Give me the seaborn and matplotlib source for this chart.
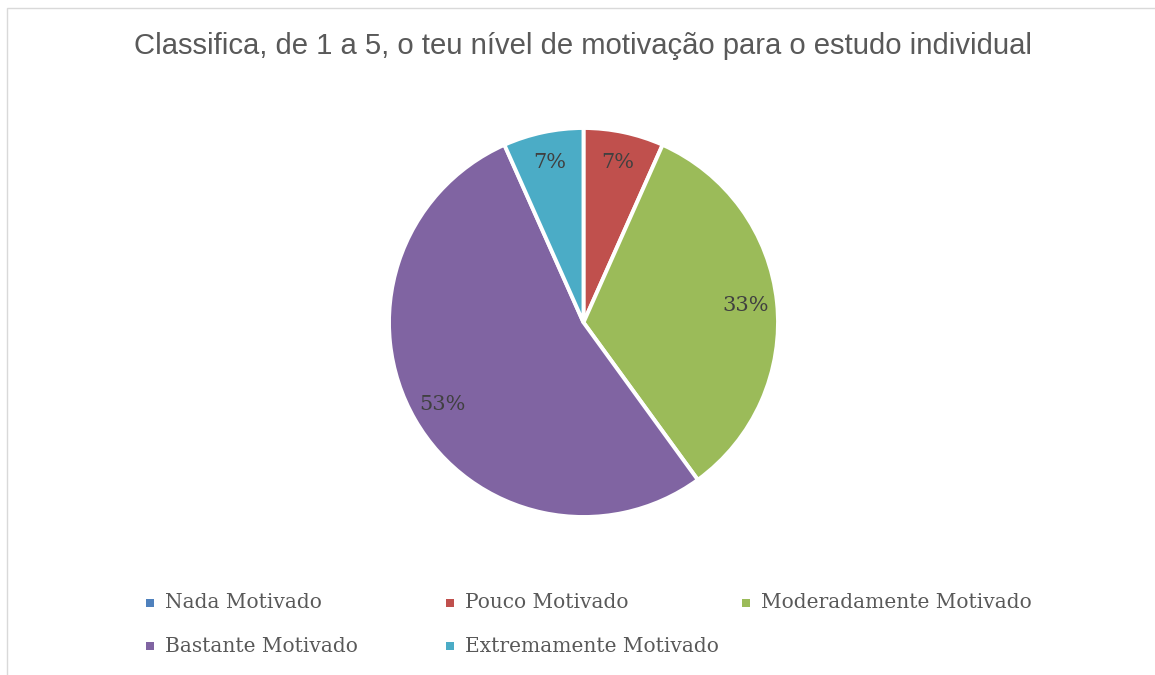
import matplotlib
matplotlib.use("Agg")
import matplotlib.pyplot as plt
from matplotlib.patches import Rectangle
import seaborn as sns

title = "Classifica, de 1 a 5, o teu nível de motivação para o estudo individual"
categories = ["Nada Motivado", "Pouco Motivado", "Moderadamente Motivado",
              "Bastante Motivado", "Extremamente Motivado"]
counts = [0, 1, 5, 8, 1]
colors = ["#4F81BD", "#C0504D", "#9BBB59", "#8064A2", "#4BACC6"]

sns.set_theme(style="white")
plt.rcParams["font.family"] = ["DejaVu Sans"]

W, H = 1155, 675
fig = plt.figure(figsize=(W / 100, H / 100), dpi=100)
fig.patch.set_facecolor("white")

# chart frame
fig.patches.append(Rectangle((7 / W, -0.1), 1.2, (H - 8) / H + 0.1,
                             transform=fig.transFigure, fill=False,
                             edgecolor="#D9D9D9", linewidth=1.0))

fig.text(582.5 / W, 1 - 46 / H, title, ha="center", va="center",
         fontsize=21.1, color="#595959", family=["Liberation Sans", "DejaVu Sans"])

cx, cy, r = 583.5, 322.5, 194.5
ax = fig.add_axes([(cx - r) / W, (H - cy - r) / H, 2 * r / W, 2 * r / H])


def fmt(p):
    return "" if p < 0.5 else f"{p:.0f}%"


wedges, texts, autotexts = ax.pie(
    counts, colors=colors, startangle=90, counterclock=False,
    autopct=fmt, pctdistance=0.84,
    wedgeprops=dict(edgecolor="white", linewidth=2.8),
    textprops=dict(family=["DejaVu Serif"], fontsize=15, color="#404040"))
ax.set_xlim(-1, 1)
ax.set_ylim(-1, 1)
ax.set_aspect("auto")
ax.axis("off")

# legend (row-major, as in reference)
leg_pos = [(150, 603), (450, 603), (746, 603), (150, 646), (450, 646)]
for (x, y), name, col in zip(leg_pos, categories, colors):
    s = 8
    fig.patches.append(Rectangle(((x - s / 2) / W, 1 - (y + s / 2) / H), s / W, s / H,
                                 transform=fig.transFigure, facecolor=col,
                                 edgecolor="none"))
    fig.text((x + 15) / W, 1 - y / H, name, ha="left", va="center",
             fontsize=14.5, color="#595959", family=["DejaVu Serif"])

fig.savefig("out.png", dpi=100, facecolor="white")
